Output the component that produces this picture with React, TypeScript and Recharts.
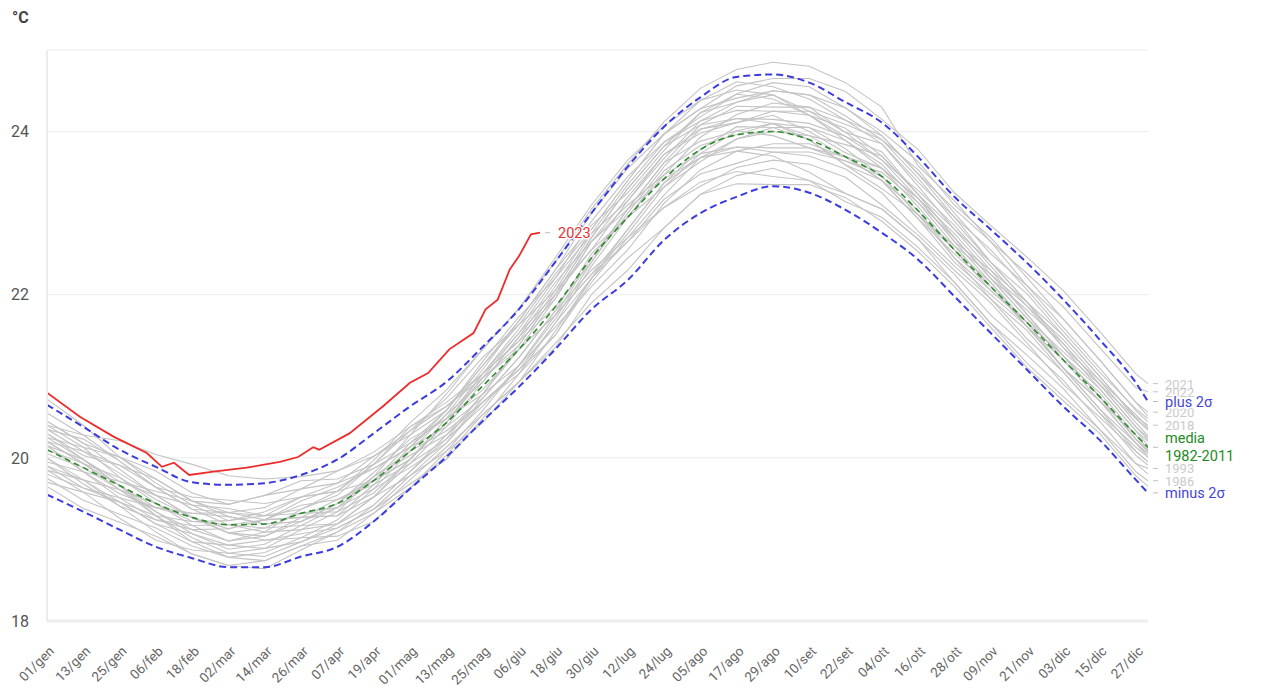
import { LineChart, Line, XAxis, YAxis, CartesianGrid, LabelList } from 'recharts';

// sample days (day of year, 0 = 01/gen) used for every year series
const sampleDays = [0, 12, 24, 36, 48, 60, 72, 84, 96, 108, 120, 132, 144, 156, 168, 180, 192, 204, 216, 228, 240, 252, 264, 276, 288, 300, 312, 324, 336, 348, 360, 364];

const tickDays = [0, 12, 24, 36, 48, 60, 72, 84, 96, 108, 120, 132, 144, 156, 168, 180, 192, 204, 216, 228, 240, 252, 264, 276, 288, 300, 312, 324, 336, 348, 360];
const tickLabels = ['01/gen', '13/gen', '25/gen', '06/feb', '18/feb', '02/mar', '14/mar', '26/mar', '07/apr', '19/apr', '01/mag', '13/mag', '25/mag', '06/giu', '18/giu', '30/giu', '12/lug', '24/lug', '05/ago', '17/ago', '29/ago', '10/set', '22/set', '04/ott', '16/ott', '28/ott', '09/nov', '21/nov', '03/dic', '15/dic', '27/dic'];

const media = [20.10, 19.88, 19.66, 19.44, 19.27, 19.18, 19.19, 19.32, 19.44, 19.72, 20.08, 20.43, 20.88, 21.33, 21.85, 22.45, 22.95, 23.42, 23.78, 23.96, 24.00, 23.90, 23.69, 23.45, 23.03, 22.55, 22.10, 21.66, 21.20, 20.75, 20.28, 20.13];
const plus2s = [20.65, 20.38, 20.10, 19.89, 19.70, 19.67, 19.69, 19.79, 19.98, 20.30, 20.63, 20.93, 21.36, 21.82, 22.40, 23.00, 23.57, 24.06, 24.42, 24.67, 24.70, 24.60, 24.36, 24.11, 23.69, 23.20, 22.80, 22.39, 21.94, 21.45, 20.92, 20.69];
const minus2s = [19.55, 19.34, 19.12, 18.91, 18.77, 18.66, 18.66, 18.79, 18.91, 19.22, 19.62, 20.01, 20.45, 20.87, 21.33, 21.82, 22.18, 22.67, 23.00, 23.20, 23.33, 23.25, 23.04, 22.76, 22.43, 21.98, 21.53, 21.08, 20.63, 20.22, 19.73, 19.57];

const y1982 = [20.00, 19.73, 19.41, 19.09, 18.82, 18.68, 18.64, 18.87, 19.09, 19.42, 19.83, 20.23, 20.63, 21.13, 21.75, 22.25, 22.80, 23.37, 23.68, 23.76, 23.85, 23.85, 23.69, 23.40, 22.93, 22.50, 22.10, 21.61, 21.10, 20.70, 20.18, 20.05];
const y1983 = [19.90, 19.63, 19.51, 19.39, 19.27, 19.08, 18.99, 19.07, 19.14, 19.37, 19.78, 20.08, 20.43, 20.93, 21.55, 22.20, 22.75, 23.32, 23.73, 24.01, 24.10, 23.90, 23.59, 23.40, 23.03, 22.45, 21.95, 21.46, 21.05, 20.55, 20.03, 19.91];
const y1984 = [19.65, 19.38, 19.21, 19.04, 18.82, 18.68, 18.74, 18.92, 18.99, 19.32, 19.73, 20.13, 20.53, 20.93, 21.40, 21.90, 22.30, 22.82, 23.23, 23.36, 23.35, 23.35, 23.19, 22.90, 22.53, 22.10, 21.60, 21.11, 20.70, 20.30, 19.78, 19.65];
const y1986 = [19.85, 19.58, 19.26, 18.99, 18.87, 18.83, 18.89, 18.97, 19.14, 19.37, 19.68, 19.98, 20.48, 21.03, 21.65, 22.20, 22.65, 23.07, 23.38, 23.51, 23.45, 23.40, 23.24, 23.05, 22.68, 22.15, 21.65, 21.26, 20.85, 20.35, 19.83, 19.72];
const y1988 = [20.30, 19.98, 19.66, 19.34, 19.07, 18.88, 18.94, 19.17, 19.39, 19.77, 20.03, 20.28, 20.78, 21.33, 21.75, 22.25, 22.65, 23.17, 23.48, 23.61, 23.75, 23.75, 23.64, 23.45, 22.98, 22.45, 22.05, 21.66, 21.25, 20.75, 20.23, 20.07];
const y1989 = [20.15, 19.83, 19.56, 19.39, 19.32, 19.28, 19.19, 19.22, 19.39, 19.62, 19.88, 20.18, 20.73, 21.23, 21.80, 22.30, 22.70, 23.22, 23.68, 23.81, 23.75, 23.70, 23.54, 23.25, 22.78, 22.35, 21.95, 21.56, 21.05, 20.55, 20.13, 20.01];
const y1991 = [19.70, 19.58, 19.46, 19.19, 18.97, 18.93, 18.99, 19.02, 19.04, 19.22, 19.63, 20.03, 20.53, 20.93, 21.35, 22.00, 22.45, 22.82, 23.23, 23.46, 23.55, 23.40, 23.14, 22.95, 22.58, 22.15, 21.65, 21.16, 20.75, 20.35, 19.93, 19.80];
const y1993 = [19.75, 19.48, 19.31, 19.14, 18.92, 18.78, 18.74, 18.92, 19.09, 19.32, 19.63, 20.08, 20.58, 21.13, 21.60, 22.10, 22.55, 23.12, 23.53, 23.76, 23.70, 23.50, 23.24, 23.05, 22.68, 22.25, 21.75, 21.36, 20.95, 20.45, 19.93, 19.87];
const y1994 = [19.95, 19.83, 19.71, 19.54, 19.27, 19.13, 19.24, 19.42, 19.49, 19.67, 19.93, 20.23, 20.78, 21.38, 22.00, 22.55, 23.15, 23.72, 24.03, 24.11, 24.20, 24.00, 23.74, 23.55, 23.18, 22.65, 22.15, 21.61, 21.10, 20.70, 20.28, 20.11];
const y1996 = [19.80, 19.63, 19.46, 19.29, 19.22, 19.18, 19.14, 19.17, 19.19, 19.42, 19.83, 20.28, 20.68, 21.03, 21.50, 22.15, 22.70, 23.07, 23.33, 23.56, 23.65, 23.60, 23.44, 23.10, 22.73, 22.30, 21.90, 21.41, 20.90, 20.50, 20.08, 19.95];
const y1997 = [20.15, 19.83, 19.51, 19.24, 19.12, 19.13, 19.24, 19.47, 19.64, 19.87, 20.13, 20.38, 20.73, 21.23, 21.80, 22.50, 22.95, 23.32, 23.63, 23.91, 24.00, 23.95, 23.84, 23.70, 23.23, 22.80, 22.40, 21.91, 21.35, 20.85, 20.33, 20.20];
const y1998 = [20.05, 19.88, 19.61, 19.34, 19.12, 18.98, 19.04, 19.22, 19.44, 19.77, 20.08, 20.33, 20.68, 21.08, 21.65, 22.35, 22.95, 23.52, 23.83, 23.96, 24.10, 24.05, 23.79, 23.45, 22.98, 22.55, 22.15, 21.66, 21.10, 20.60, 20.18, 20.01];
const y2000 = [19.85, 19.73, 19.61, 19.44, 19.17, 18.98, 19.09, 19.37, 19.54, 19.92, 20.38, 20.68, 21.03, 21.43, 21.85, 22.40, 23.05, 23.62, 23.88, 24.01, 23.95, 23.80, 23.64, 23.50, 23.13, 22.60, 22.25, 21.86, 21.45, 20.95, 20.43, 20.27];
const y2001 = [20.25, 19.98, 19.71, 19.59, 19.47, 19.28, 19.19, 19.22, 19.44, 19.82, 20.23, 20.48, 20.78, 21.13, 21.70, 22.40, 23.00, 23.57, 24.03, 24.16, 24.10, 23.95, 23.69, 23.40, 22.93, 22.40, 22.00, 21.61, 21.20, 20.80, 20.28, 20.11];
const y2003 = [19.90, 19.73, 19.46, 19.19, 19.07, 18.93, 18.89, 19.12, 19.34, 19.77, 20.28, 20.78, 21.33, 21.83, 22.45, 23.10, 23.65, 24.07, 24.38, 24.51, 24.45, 24.20, 23.89, 23.55, 23.08, 22.55, 22.05, 21.66, 21.25, 20.75, 20.23, 20.08];
const y2004 = [20.20, 19.93, 19.61, 19.29, 19.02, 18.83, 18.79, 18.97, 19.19, 19.52, 19.78, 20.18, 20.68, 21.08, 21.50, 22.20, 22.80, 23.37, 23.78, 24.06, 24.05, 24.05, 23.89, 23.60, 23.13, 22.70, 22.20, 21.71, 21.20, 20.70, 20.18, 20.05];
const y2006 = [20.00, 19.68, 19.41, 19.24, 19.17, 19.18, 19.24, 19.27, 19.29, 19.52, 19.93, 20.38, 20.93, 21.48, 21.95, 22.65, 23.10, 23.47, 23.73, 23.81, 23.80, 23.80, 23.69, 23.55, 23.18, 22.75, 22.25, 21.76, 21.25, 20.75, 20.23, 20.10];
const y2007 = [20.72, 20.40, 20.01, 19.69, 19.42, 19.23, 19.29, 19.52, 19.59, 19.72, 19.98, 20.43, 21.03, 21.53, 22.15, 22.65, 23.05, 23.42, 23.68, 23.91, 24.05, 23.90, 23.59, 23.30, 22.98, 22.60, 22.10, 21.61, 21.10, 20.60, 20.08, 19.95];
const y2009 = [20.10, 19.93, 19.76, 19.49, 19.27, 19.08, 19.14, 19.32, 19.39, 19.72, 20.18, 20.48, 20.83, 21.33, 21.95, 22.65, 23.20, 23.72, 23.98, 24.11, 24.25, 24.20, 24.04, 23.70, 23.23, 22.70, 22.20, 21.81, 21.40, 20.90, 20.38, 20.25];
const y2010 = [20.45, 20.18, 19.86, 19.54, 19.27, 19.08, 19.04, 19.27, 19.49, 19.72, 19.98, 20.43, 20.98, 21.53, 22.00, 22.70, 23.30, 23.82, 24.08, 24.16, 24.15, 24.10, 23.94, 23.75, 23.23, 22.70, 22.20, 21.71, 21.30, 20.90, 20.48, 20.34];
const y2011 = [20.20, 20.08, 19.91, 19.64, 19.37, 19.18, 19.09, 19.12, 19.19, 19.52, 19.98, 20.48, 21.03, 21.43, 22.05, 22.55, 22.95, 23.47, 23.93, 24.21, 24.35, 24.30, 23.99, 23.65, 23.18, 22.65, 22.30, 21.91, 21.40, 20.90, 20.38, 20.22];
const y2012 = [20.15, 19.98, 19.66, 19.29, 18.97, 18.78, 18.84, 19.02, 19.24, 19.62, 20.08, 20.53, 20.93, 21.48, 22.10, 22.80, 23.40, 23.97, 24.38, 24.61, 24.55, 24.40, 24.14, 23.85, 23.33, 22.80, 22.30, 21.76, 21.25, 20.85, 20.33, 20.15];
const y2014 = [20.35, 20.08, 19.81, 19.54, 19.42, 19.38, 19.29, 19.32, 19.34, 19.57, 19.98, 20.43, 20.98, 21.33, 21.75, 22.45, 23.05, 23.62, 24.08, 24.31, 24.30, 24.30, 24.14, 23.95, 23.48, 22.95, 22.55, 22.06, 21.55, 21.05, 20.60, 20.48];
const y2015 = [20.25, 20.13, 20.01, 19.74, 19.47, 19.43, 19.54, 19.72, 19.74, 19.92, 20.18, 20.58, 21.13, 21.68, 22.30, 23.00, 23.55, 23.97, 24.28, 24.41, 24.50, 24.45, 24.19, 23.90, 23.53, 23.00, 22.50, 22.11, 21.60, 21.10, 20.58, 20.44];
const y2016 = [20.40, 20.28, 20.21, 20.04, 19.92, 19.78, 19.74, 19.77, 19.84, 20.02, 20.33, 20.63, 21.03, 21.58, 22.20, 22.75, 23.15, 23.67, 24.13, 24.26, 24.25, 24.25, 23.99, 23.85, 23.38, 22.95, 22.40, 21.91, 21.50, 21.00, 20.48, 20.35];
const y2017 = [20.40, 20.13, 19.76, 19.44, 19.22, 19.23, 19.34, 19.52, 19.69, 19.87, 20.13, 20.53, 21.08, 21.68, 22.30, 22.85, 23.25, 23.77, 24.23, 24.46, 24.40, 24.20, 23.94, 23.65, 23.28, 22.85, 22.35, 21.86, 21.35, 20.95, 20.53, 20.37];
const y2018 = [20.20, 19.93, 19.66, 19.39, 19.32, 19.33, 19.29, 19.37, 19.59, 19.92, 20.33, 20.73, 21.23, 21.63, 22.05, 22.75, 23.35, 23.87, 24.13, 24.36, 24.45, 24.25, 24.09, 23.90, 23.43, 22.90, 22.40, 22.01, 21.50, 21.00, 20.50, 20.40];
const y2019 = [20.35, 20.23, 19.96, 19.64, 19.37, 19.33, 19.24, 19.27, 19.29, 19.67, 20.13, 20.58, 21.18, 21.73, 22.20, 22.90, 23.45, 23.87, 24.18, 24.46, 24.60, 24.55, 24.29, 24.00, 23.63, 23.10, 22.70, 22.21, 21.70, 21.20, 20.68, 20.51];
const y2020 = [20.45, 20.18, 20.01, 19.84, 19.57, 19.43, 19.54, 19.62, 19.84, 20.07, 20.38, 20.63, 20.98, 21.38, 22.00, 22.70, 23.30, 23.82, 24.23, 24.36, 24.50, 24.45, 24.29, 23.95, 23.48, 23.05, 22.65, 22.11, 21.70, 21.20, 20.68, 20.56];
const y2021 = [20.30, 20.03, 19.91, 19.74, 19.47, 19.33, 19.39, 19.62, 19.69, 20.02, 20.28, 20.58, 21.13, 21.63, 22.25, 22.80, 23.40, 23.97, 24.28, 24.56, 24.65, 24.65, 24.49, 24.15, 23.78, 23.25, 22.85, 22.46, 22.05, 21.55, 21.03, 20.91];
const y2022 = [20.55, 20.28, 19.96, 19.64, 19.52, 19.48, 19.44, 19.52, 19.59, 19.97, 20.43, 20.83, 21.33, 21.83, 22.40, 23.05, 23.60, 24.12, 24.53, 24.76, 24.85, 24.80, 24.60, 24.30, 23.58, 23.15, 22.65, 22.26, 21.85, 21.35, 20.86, 20.81];

const days2023 = [0, 11, 22, 33, 38, 42, 47, 55, 66, 77, 83, 88, 90, 100, 111, 120, 126, 133, 141, 145, 149, 153, 156, 160, 163];
const sst2023 = [20.80, 20.50, 20.26, 20.06, 19.89, 19.94, 19.79, 19.83, 19.88, 19.95, 20.01, 20.13, 20.10, 20.30, 20.63, 20.92, 21.04, 21.33, 21.53, 21.82, 21.94, 22.31, 22.47, 22.74, 22.76];

const grayYears = [
  { year: '1982', values: y1982, label: false },
  { year: '1983', values: y1983, label: false },
  { year: '1984', values: y1984, label: false },
  { year: '1986', values: y1986, label: true },
  { year: '1988', values: y1988, label: false },
  { year: '1989', values: y1989, label: false },
  { year: '1991', values: y1991, label: false },
  { year: '1993', values: y1993, label: true },
  { year: '1994', values: y1994, label: false },
  { year: '1996', values: y1996, label: false },
  { year: '1997', values: y1997, label: false },
  { year: '1998', values: y1998, label: false },
  { year: '2000', values: y2000, label: false },
  { year: '2001', values: y2001, label: false },
  { year: '2003', values: y2003, label: false },
  { year: '2004', values: y2004, label: false },
  { year: '2006', values: y2006, label: false },
  { year: '2007', values: y2007, label: false },
  { year: '2009', values: y2009, label: false },
  { year: '2010', values: y2010, label: false },
  { year: '2011', values: y2011, label: false },
  { year: '2012', values: y2012, label: false },
  { year: '2014', values: y2014, label: false },
  { year: '2015', values: y2015, label: false },
  { year: '2016', values: y2016, label: false },
  { year: '2017', values: y2017, label: false },
  { year: '2018', values: y2018, label: true },
  { year: '2019', values: y2019, label: false },
  { year: '2020', values: y2020, label: true },
  { year: '2022', values: y2022, label: true },
  { year: '2021', values: y2021, label: true },
];

const toPoints = (days: number[], vals: number[]) => days.map((d, i) => ({ day: d, v: vals[i] }));

const FONT = 'Roboto, "Noto Sans", sans-serif';

function XTick({ x, y, payload }: any) {
  const i = tickDays.indexOf(payload.value);
  const ax = x + 8;
  const ay = y + 23;
  return (
    <text x={ax} y={ay} transform={`rotate(-45, ${ax}, ${ay})`} textAnchor="end" fill="#666" fontSize={13.5} fontFamily={FONT}>
      {tickLabels[i]}
    </text>
  );
}

function endLabel(lastIndex: number, lines: string[], color: string, opts: { halo?: boolean; gap?: number; size?: number; opacity?: number } = {}) {
  return (p: any) => {
    if (p.index !== lastIndex) return null;
    const x = Number(p.x);
    const y = Number(p.y);
    const gap = opts.gap ?? 17;
    const size = opts.size ?? 14.5;
    const startY = y + 5 - ((lines.length - 1) * 18) / 2;
    return (
      <g opacity={opts.opacity ?? 1}>
        <line x1={x + 5} x2={x + 10} y1={y} y2={y} stroke="#bbb" strokeWidth={1} />
        {lines.map((t, k) => (
          <text
            key={k}
            x={x + gap}
            y={startY + k * 18}
            fill={color}
            fontSize={size}
            fontFamily={FONT}
            stroke={opts.halo ? '#fff' : undefined}
            strokeWidth={opts.halo ? 3 : undefined}
            paintOrder="stroke"
          >
            {t}
          </text>
        ))}
      </g>
    );
  };
}

export default function App() {
  const last = sampleDays.length - 1;
  return (
    <div style={{ position: 'absolute', left: 0, top: 0, width: 1261, height: 688, background: '#fff' }}>
      <div style={{ position: 'absolute', left: 12, top: 8, fontFamily: FONT, fontWeight: 700, fontSize: 16, color: '#444' }}>°C</div>
      <LineChart width={1261} height={688} margin={{ top: 50, right: 113, bottom: 0, left: 7 }}>
        <CartesianGrid vertical={false} stroke="#ececec" />
        <XAxis
          type="number"
          dataKey="day"
          domain={[0, 364]}
          ticks={tickDays}
          interval={0}
          tick={<XTick />}
          tickLine={false}
          axisLine={{ stroke: '#eeeeee', strokeWidth: 3 }}
          height={67}
          allowDataOverflow
        />
        <YAxis
          type="number"
          domain={[18, 25]}
          ticks={[18, 20, 22, 24]}
          width={40}
          tickLine={false}
          tickMargin={12}
          axisLine={{ stroke: '#ececec', strokeWidth: 2 }}
          tick={{ fill: '#555', fontSize: 16, fontFamily: FONT }}
        />
        {grayYears.map((g) => (
          <Line
            key={g.year}
            data={toPoints(sampleDays, g.values)}
            dataKey="v"
            type="linear"
            stroke="#c4c4c4"
            strokeWidth={1.1}
            dot={false}
            isAnimationActive={false}
          >
            {g.label && <LabelList dataKey="v" content={endLabel(last, [g.year], '#c2c2c2', { size: 13, opacity: 0.85 })} />}
          </Line>
        ))}
        <Line data={toPoints(sampleDays, minus2s)} dataKey="v" type="monotone" stroke="#3b3be0" strokeWidth={2} strokeDasharray="7 4" dot={false} isAnimationActive={false}>
          <LabelList dataKey="v" content={endLabel(last, ['minus 2σ'], '#4646d8')} />
        </Line>
        <Line data={toPoints(sampleDays, plus2s)} dataKey="v" type="monotone" stroke="#3b3be0" strokeWidth={2} strokeDasharray="7 4" dot={false} isAnimationActive={false}>
          <LabelList dataKey="v" content={endLabel(last, ['plus 2σ'], '#4646d8', { halo: true })} />
        </Line>
        <Line data={toPoints(sampleDays, media)} dataKey="v" type="monotone" stroke="#2e8b2e" strokeWidth={1.6} strokeDasharray="6 4" dot={false} isAnimationActive={false}>
          <LabelList dataKey="v" content={endLabel(last, ['media', '1982-2011'], '#238a23', { halo: true })} />
        </Line>
        <Line data={toPoints(days2023, sst2023)} dataKey="v" type="linear" stroke="#ee2b2b" strokeWidth={1.8} dot={false} isAnimationActive={false}>
          <LabelList dataKey="v" content={endLabel(days2023.length - 1, ['2023'], '#e83030', { halo: true, gap: 18 })} />
        </Line>
      </LineChart>
    </div>
  );
}
